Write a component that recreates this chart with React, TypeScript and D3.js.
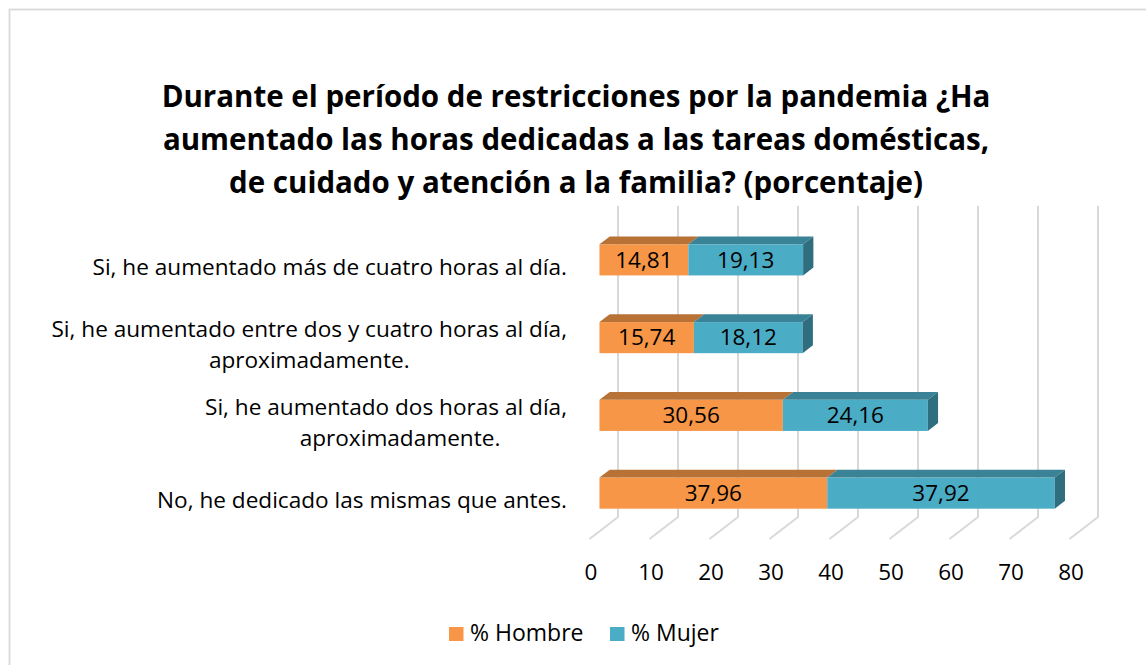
import React, { useEffect, useRef } from "react";
import * as d3 from "d3";

const titleLines = [
  "Durante el período de restricciones por la pandemia ¿Ha",
  "aumentado las horas dedicadas a las tareas domésticas,",
  "de cuidado y atención a la familia? (porcentaje)",
];
const categoryLines: string[][] = [
  ["Si, he aumentado más de cuatro horas al día."],
  ["Si, he aumentado entre dos y cuatro horas al día,", "aproximadamente."],
  ["Si, he aumentado dos horas al día,", "aproximadamente."],
  ["No, he dedicado las mismas que antes."],
];
const hombre = [14.81, 15.74, 30.56, 37.96];
const mujer = [19.13, 18.12, 24.16, 37.92];
const seriesNames = ["% Hombre", "% Mujer"];
const tickValues = [0, 10, 20, 30, 40, 50, 60, 70, 80];

const W = 1146;
const H = 665;
const FONT = "'Open Sans', Lato, sans-serif";
const COLORS = [
  { front: "#F79646", top: "#B87236", side: "#B0662C" },
  { front: "#4BACC6", top: "#3A8396", side: "#2F6E7E" },
];
const TITLE_SIZE = 29.5;
const LABEL_SIZE = 23;
const CAT_SIZE = 22.6;
const DATA_SIZE = 22.5;
const LINE_GAP = 31;
const SECOND_LINE_SHIFT = [0, 0, 14, 0];

export default function App() {
  const ref = useRef<SVGSVGElement | null>(null);

  useEffect(() => {
    const svg = d3.select(ref.current!);
    svg.selectAll("*").remove();

    svg
      .append("rect")
      .attr("x", 0)
      .attr("y", 0)
      .attr("width", W)
      .attr("height", H)
      .attr("fill", "#ffffff");
    svg
      .append("rect")
      .attr("x", 9.5)
      .attr("y", 9.5)
      .attr("width", W + 10)
      .attr("height", H + 10)
      .attr("fill", "#ffffff")
      .attr("stroke", "#d9d9d9")
      .attr("stroke-width", 1.8);

    // title
    const title = svg
      .append("text")
      .attr("font-family", FONT)
      .attr("font-weight", "bold")
      .attr("font-size", TITLE_SIZE)
      .attr("fill", "#000")
      .attr("text-anchor", "middle");
    titleLines.forEach((t, i) => {
      title
        .append("tspan")
        .attr("x", 576)
        .attr("y", 107 + i * 43)
        .text(t);
    });

    const x = d3.scaleLinear().domain([0, 80]).range([589.5, 1069.5]);
    const DX = 28.5;
    const DY = 22;
    const floorFront = 539;
    const floorBack = floorFront - DY;
    const wallTop = 206;

    const y = d3
      .scaleBand<number>()
      .domain(d3.range(categoryLines.length))
      .range([221, 532])
      .paddingInner(0.6)
      .paddingOuter(0.3);
    const bw = y.bandwidth();

    // gridlines (back wall + floor)
    svg
      .append("g")
      .selectAll("path")
      .data(tickValues)
      .join("path")
      .attr(
        "d",
        (t) =>
          `M${x(t) + DX},${wallTop} V${floorBack} L${x(t)},${floorFront}`
      )
      .attr("fill", "none")
      .attr("stroke", "#d9d9d9")
      .attr("stroke-width", 2);

    // bars
    const d0x = 0.35 * DX;
    const ddx = 0.36 * DX;
    const ddy = 0.36 * DY;
    const gBars = svg.append("g");
    const gLabels = svg.append("g");
    categoryLines.forEach((_, i) => {
      const vals = [hombre[i], mujer[i]];
      let acc = 0;
      const yt = y(i)!;
      vals.forEach((v, s) => {
        const xa = x(acc) + d0x;
        const xb = x(acc + v) + d0x;
        acc += v;
        const c = COLORS[s];
        gBars
          .append("rect")
          .attr("x", xa)
          .attr("y", yt)
          .attr("width", xb - xa)
          .attr("height", bw)
          .attr("fill", c.front);
        gBars
          .append("path")
          .attr(
            "d",
            `M${xa},${yt} L${xb},${yt} L${xb + ddx},${yt - ddy} L${xa + ddx},${yt - ddy} Z`
          )
          .attr("fill", c.top);
        if (s === vals.length - 1) {
          gBars
            .append("path")
            .attr(
              "d",
              `M${xb},${yt} L${xb + ddx},${yt - ddy} L${xb + ddx},${yt - ddy + bw} L${xb},${yt + bw} Z`
            )
            .attr("fill", c.side);
        }
        gLabels
          .append("text")
          .attr("x", (xa + xb) / 2)
          .attr("y", yt + bw / 2 + 7.8)
          .attr("text-anchor", "middle")
          .attr("font-family", FONT)
          .attr("font-size", DATA_SIZE)
          .attr("fill", "#000")
          .text(v.toFixed(2).replace(".", ","));
      });
    });

    // category labels (multi-line as tspans in one text)
    const gCat = svg.append("g");
    categoryLines.forEach((lines, i) => {
      const cy = y(i)! + bw / 2 + 0.35 * DY - 0.5;
      const n = lines.length;
      const txt = gCat
        .append("text")
        .attr("font-family", FONT)
        .attr("font-size", CAT_SIZE)
        .attr("fill", "#000");
      const first = txt
        .append("tspan")
        .attr("x", 567)
        .attr("y", cy - ((n - 1) * LINE_GAP) / 2 + 7.8)
        .attr("text-anchor", "end")
        .text(lines[0]);
      const w1 = (first.node() as SVGTSpanElement).getComputedTextLength();
      const center = 567 - w1 / 2 + SECOND_LINE_SHIFT[i];
      for (let k = 1; k < n; k++) {
        txt
          .append("tspan")
          .attr("x", center)
          .attr("y", cy - ((n - 1) * LINE_GAP) / 2 + k * LINE_GAP + 7.8)
          .attr("text-anchor", "middle")
          .text(lines[k]);
      }
    });

    // x tick labels
    svg
      .append("g")
      .selectAll("text")
      .data(tickValues)
      .join("text")
      .attr("x", (t) => x(t) + 1.5)
      .attr("y", 580)
      .attr("text-anchor", "middle")
      .attr("font-family", FONT)
      .attr("font-size", DATA_SIZE)
      .attr("fill", "#000")
      .text((t) => String(t));

    // legend
    const legendX = [449, 610];
    const gLeg = svg.append("g");
    seriesNames.forEach((name, s) => {
      gLeg
        .append("rect")
        .attr("x", legendX[s])
        .attr("y", 627)
        .attr("width", 14.5)
        .attr("height", 14)
        .attr("fill", COLORS[s].front);
      gLeg
        .append("text")
        .attr("x", legendX[s] + 21)
        .attr("y", 641)
        .attr("font-family", FONT)
        .attr("font-size", LABEL_SIZE)
        .attr("fill", "#000")
        .text(name);
    });
  }, []);

  return (
    <svg
      ref={ref}
      width={W}
      height={H}
      style={{ position: "absolute", left: 0, top: 0, display: "block" }}
    />
  );
}
